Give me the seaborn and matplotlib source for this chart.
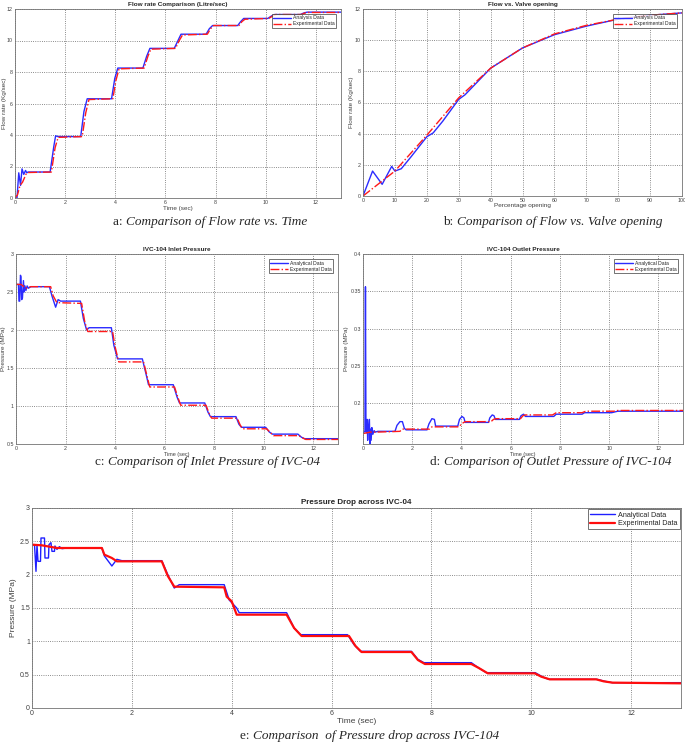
import numpy as np
import pandas as pd
import matplotlib
matplotlib.use("Agg")
import matplotlib.pyplot as plt
import seaborn as sns

# ---- data ----
# a: flow rate vs time
t_flow_ana = [0, 0.08, 0.15, 0.22, 0.28, 0.35, 0.42, 0.47, 0.52, 1.40, 1.55, 1.62, 1.70, 2.62, 2.75, 2.88,
              3.85, 3.98, 4.10, 5.10, 5.25, 5.38, 6.35, 6.50, 6.62, 7.62, 7.75, 7.88, 8.88, 9.00, 9.12,
              10.08, 10.22, 10.35, 11.38, 11.52, 11.65, 13.0]
flow_ana = [0, 0, 1.6, 0.8, 1.85, 1.5, 1.75, 1.6, 1.65, 1.65, 3.3, 3.95, 3.9, 3.9, 5.5, 6.3,
            6.3, 7.6, 8.25, 8.25, 9.0, 9.5, 9.5, 10.0, 10.4, 10.4, 10.75, 10.95, 10.95, 11.2, 11.4,
            11.4, 11.55, 11.65, 11.65, 11.75, 11.8, 11.8]
t_flow_exp = [0, 0.1, 0.2, 0.3, 0.45, 0.55, 1.45, 1.6, 1.72, 2.68, 2.82, 2.95, 3.9, 4.03, 4.15, 5.15,
              5.3, 5.42, 6.4, 6.55, 6.68, 7.67, 7.8, 7.92, 8.93, 9.05, 9.17, 10.12, 10.27, 10.4,
              11.42, 11.57, 11.7, 13.0]
flow_exp = [0, 0.2, 0.8, 1.0, 1.55, 1.62, 1.65, 3.2, 3.85, 3.9, 5.4, 6.25, 6.3, 7.5, 8.2, 8.25,
            9.0, 9.45, 9.5, 10.0, 10.35, 10.4, 10.75, 10.95, 10.95, 11.2, 11.35, 11.4, 11.55, 11.65,
            11.65, 11.75, 11.78, 11.78]

# b: flow vs valve opening
open_ana = [0, 3, 6, 9, 10, 12, 15, 20, 22, 25, 30, 32, 40, 50, 60, 70, 80, 90, 100]
flowv_ana = [0, 1.6, 0.75, 1.9, 1.6, 1.75, 2.5, 3.8, 4.05, 4.8, 6.2, 6.5, 8.2, 9.5, 10.35, 10.9, 11.35, 11.6, 11.75]
open_exp = [0, 10, 20, 30, 40, 50, 60, 70, 80, 90, 100]
flowv_exp = [0, 1.6, 3.9, 6.3, 8.2, 9.5, 10.4, 10.95, 11.35, 11.6, 11.75]

# c: inlet pressure
t_in_ana = [0, 0.1, 0.12, 0.15, 0.18, 0.2, 0.23, 0.26, 0.3, 0.33, 0.36, 0.4, 0.45, 0.5, 0.6, 1.35, 1.45,
            1.6, 1.7, 1.8, 2.6, 2.72, 2.85, 2.95, 3.85, 3.95, 4.1, 5.1, 5.25, 5.35, 6.35, 6.5, 6.6,
            7.62, 7.75, 7.85, 8.88, 9.0, 9.1, 10.08, 10.22, 10.35, 11.38, 11.52, 11.65, 13]
p_in_ana = [2.6, 2.6, 2.38, 2.38, 2.72, 2.7, 2.4, 2.42, 2.65, 2.5, 2.58, 2.52, 2.58, 2.55, 2.57, 2.57, 2.45,
            2.3, 2.4, 2.38, 2.38, 2.15, 2.0, 2.03, 2.03, 1.8, 1.62, 1.62, 1.42, 1.28, 1.28, 1.12, 1.04,
            1.04, 0.92, 0.86, 0.86, 0.76, 0.72, 0.72, 0.66, 0.63, 0.63, 0.59, 0.57, 0.57]
t_in_exp = [0, 0.2, 0.4, 0.6, 1.4, 1.5, 1.65, 2.65, 2.78, 2.9, 3.9, 4.0, 4.15, 5.15, 5.3, 5.4, 6.4, 6.55,
            6.65, 7.67, 7.8, 7.9, 8.93, 9.05, 9.15, 10.12, 10.27, 10.4, 11.42, 11.57, 11.7, 13]
p_in_exp = [2.6, 2.6, 2.55, 2.57, 2.57, 2.45, 2.36, 2.35, 2.1, 1.98, 1.98, 1.78, 1.58, 1.58, 1.38, 1.25,
            1.25, 1.1, 1.01, 1.01, 0.9, 0.84, 0.84, 0.75, 0.7, 0.7, 0.65, 0.61, 0.61, 0.58, 0.56, 0.56]

# d: outlet pressure
t_out_ana = [0, 0.08, 0.1, 0.12, 0.14, 0.17, 0.19, 0.21, 0.23, 0.26, 0.28, 0.3, 0.33, 0.36, 0.4, 0.45,
             0.5, 0.6, 1.3, 1.38, 1.5, 1.6, 1.68, 1.75, 2.6, 2.68, 2.8, 2.9, 2.95, 3.85, 3.92, 4.02,
             4.1, 4.15, 5.1, 5.15, 5.25, 5.32, 5.38, 6.35, 6.42, 6.52, 6.6, 7.75, 7.85, 8.9, 9.0,
             10.1, 10.35, 13]
p_out_ana = [0.16, 0.162, 0.356, 0.165, 0.16, 0.178, 0.15, 0.165, 0.168, 0.178, 0.145, 0.165, 0.15, 0.167,
             0.158, 0.163, 0.161, 0.162, 0.162, 0.17, 0.175, 0.175, 0.166, 0.164, 0.164, 0.172, 0.179,
             0.178, 0.169, 0.169, 0.178, 0.182, 0.18, 0.174, 0.174, 0.18, 0.184, 0.183, 0.178, 0.178,
             0.183, 0.185, 0.182, 0.182, 0.185, 0.185, 0.187, 0.187, 0.189, 0.189]
t_out_exp = [0, 0.3, 0.6, 1.5, 1.6, 2.7, 2.8, 3.9, 4.0, 4.15, 5.2, 5.3, 5.4, 6.4, 6.5, 6.6, 7.7, 7.85,
             8.9, 9.05, 10.2, 10.35, 13]
p_out_exp = [0.159, 0.161, 0.161, 0.162, 0.165, 0.165, 0.168, 0.168, 0.172, 0.175, 0.175, 0.178, 0.179,
             0.179, 0.183, 0.184, 0.184, 0.187, 0.187, 0.189, 0.189, 0.19, 0.19]

# e: pressure drop
t_dp_ana = [0, 0.05, 0.08, 0.1, 0.12, 0.17, 0.18, 0.25, 0.26, 0.33, 0.34, 0.38, 0.4, 0.45, 0.46, 0.5,
            0.55, 0.6, 0.7, 1.4, 1.45, 1.6, 1.7, 1.8, 2.6, 2.72, 2.85, 2.95, 3.85, 3.95, 4.1, 4.15,
            5.1, 5.25, 5.38, 6.32, 6.45, 6.58, 7.6, 7.73, 7.85, 8.8, 8.95, 9.1, 10.08, 10.22, 10.35,
            11.32, 11.48, 11.62, 13]
dp_ana = [2.45, 2.45, 2.05, 2.45, 2.2, 2.2, 2.55, 2.55, 2.25, 2.25, 2.45, 2.48, 2.35, 2.35, 2.43, 2.38,
          2.42, 2.39, 2.4, 2.4, 2.28, 2.13, 2.23, 2.21, 2.21, 2.0, 1.8, 1.85, 1.85, 1.62, 1.5, 1.43,
          1.43, 1.2, 1.1, 1.1, 0.95, 0.85, 0.85, 0.73, 0.68, 0.68, 0.6, 0.53, 0.53, 0.47, 0.43,
          0.43, 0.4, 0.38, 0.38]
t_dp_exp = [0, 0.2, 0.5, 1.4, 1.45, 1.6, 1.7, 2.6, 2.72, 2.85, 3.85, 3.9, 4.0, 4.1, 5.1, 5.25, 5.4,
            6.35, 6.48, 6.6, 7.6, 7.73, 7.87, 8.8, 8.95, 9.13, 10.07, 10.2, 10.37, 11.3, 11.45, 11.63, 13]
dp_exp = [2.45, 2.44, 2.4, 2.4, 2.3, 2.25, 2.2, 2.2, 1.98, 1.82, 1.81, 1.67, 1.6, 1.4, 1.4, 1.2, 1.08,
          1.08, 0.93, 0.84, 0.84, 0.72, 0.66, 0.66, 0.6, 0.52, 0.52, 0.47, 0.43, 0.43, 0.4, 0.38, 0.37]

W, H = 685, 745
sns.set_theme(style="white")
plt.rcParams['font.family'] = ['Liberation Sans', 'DejaVu Sans']

fig = plt.figure(figsize=(W / 100, H / 100), dpi=100)


def add_ax(left, top, right, bottom):
    return fig.add_axes([left / W, 1 - bottom / H, (right - left) / W, (bottom - top) / H])


def style_ax(ax, fs):
    ax.grid(True, linestyle=':', color='0.4', linewidth=0.6)
    for s in ax.spines.values():
        s.set_color('0.45')
        s.set_linewidth(0.6)
    ax.tick_params(labelsize=fs, pad=1.5, length=0, colors='0.25')


def draw_pair(ax, x1, y1, x2, y2, lab1, lab2, fs, small=True):
    if small:
        sns.lineplot(x=x1, y=y1, ax=ax, sort=False, estimator=None, color='#2b2bff', lw=1.0, label=lab1)
        sns.lineplot(x=x2, y=y2, ax=ax, sort=False, estimator=None, color='#ff1a1a', lw=1.0,
                     linestyle='-.', label=lab2)
    else:
        sns.lineplot(x=x1, y=y1, ax=ax, sort=False, estimator=None, color='#1f1fff', lw=1.0, label=lab1)
        sns.lineplot(x=x2, y=y2, ax=ax, sort=False, estimator=None, color='#ff0d0d', lw=1.6, label=lab2)
    leg = ax.legend(loc='upper right', fontsize=fs, frameon=True, fancybox=False, edgecolor='0.2',
                    borderpad=0.3, handlelength=3.5, handletextpad=0.4, labelspacing=0.2,
                    borderaxespad=1.0 if small else 0.2)
    leg.get_frame().set_linewidth(0.6)


# a
ax = add_ax(15, 9, 341, 198)
draw_pair(ax, t_flow_ana, flow_ana, t_flow_exp, flow_exp, 'Analysis Data', 'Experimental Data', 3.6)
ax.set_xlim(0, 13); ax.set_ylim(0, 12)
ax.set_xticks(range(0, 13, 2)); ax.set_yticks(range(0, 13, 2))
style_ax(ax, 3.8)
ax.set_title('Flow rate Comparison (Litre/sec)', fontsize=4.6, fontweight='bold', pad=2)
ax.set_xlabel('Time (sec)', fontsize=4.6, labelpad=1, color='0.25')
ax.set_ylabel('Flow rate (Kg/sec)', fontsize=4.6, labelpad=0, color='0.25')

# b
ax = add_ax(363, 9, 682, 196)
draw_pair(ax, open_ana, flowv_ana, open_exp, flowv_exp, 'Analysis Data', 'Experimental Data', 3.6)
ax.set_xlim(0, 100); ax.set_ylim(0, 12)
ax.set_xticks(range(0, 101, 10)); ax.set_yticks(range(0, 13, 2))
style_ax(ax, 3.8)
ax.set_title('Flow vs. Valve opening', fontsize=4.6, fontweight='bold', pad=2)
ax.set_xlabel('Percentage opening', fontsize=4.6, labelpad=0, color='0.25')
ax.set_ylabel('Flow rate (Kg/sec)', fontsize=4.6, labelpad=1, color='0.25')

# c
ax = add_ax(16, 254, 338, 444)
draw_pair(ax, t_in_ana, p_in_ana, t_in_exp, p_in_exp, 'Analytical Data', 'Experimental Data', 3.6)
ax.set_xlim(0, 13); ax.set_ylim(0.5, 3)
ax.set_xticks(range(0, 13, 2)); ax.set_yticks([0.5, 1, 1.5, 2, 2.5, 3])
ax.set_yticklabels(['0.5', '1', '1.5', '2', '2.5', '3'])
style_ax(ax, 3.8)
ax.set_title('IVC-104 Inlet Pressure', fontsize=4.6, fontweight='bold', pad=2)
ax.set_xlabel('Time (sec)', fontsize=4.0, labelpad=1, color='0.25')
ax.set_ylabel('Pressure (MPa)', fontsize=4.6, labelpad=0, color='0.25')

# d
ax = add_ax(363, 254, 683, 444)
draw_pair(ax, t_out_ana, p_out_ana, t_out_exp, p_out_exp, 'Analytical Data', 'Experimental Data', 3.6)
ax.set_xlim(0, 13); ax.set_ylim(0.145, 0.4)
ax.set_xticks(range(0, 13, 2)); ax.set_yticks([0.2, 0.25, 0.3, 0.35, 0.4])
ax.set_yticklabels(['0.2', '0.25', '0.3', '0.35', '0.4'])
style_ax(ax, 3.8)
ax.set_title('IVC-104 Outlet Pressure', fontsize=4.6, fontweight='bold', pad=2)
ax.set_xlabel('Time (sec)', fontsize=4.0, labelpad=1, color='0.25')
ax.set_ylabel('Pressure (MPa)', fontsize=4.6, labelpad=1, color='0.25')

# e
ax = add_ax(32, 508, 681, 708)
draw_pair(ax, t_dp_ana, dp_ana, t_dp_exp, dp_exp, 'Analytical Data', 'Experimental Data', 5.2, small=False)
ax.set_xlim(0, 13); ax.set_ylim(0, 3)
ax.set_xticks(range(0, 13, 2)); ax.set_yticks([0, 0.5, 1, 1.5, 2, 2.5, 3])
ax.set_yticklabels(['0', '0.5', '1', '1.5', '2', '2.5', '3'])
style_ax(ax, 5.0)
ax.set_title('Pressure Drop across IVC-04', fontsize=5.8, fontweight='bold', pad=3)
ax.set_xlabel('Time (sec)', fontsize=6.0, labelpad=1, color='0.25')
ax.set_ylabel('Pressure (MPa)', fontsize=6.0, labelpad=2, color='0.25')

# captions: regular letter, italic description
fig.canvas.draw()
renderer = fig.canvas.get_renderer()


def caption(x_px, y_px, letter, text):
    t1 = fig.text(x_px / W, 1 - y_px / H, letter + ' ', fontsize=9.5, family='Liberation Serif',
                  ha='left', va='center')
    bb = t1.get_window_extent(renderer)
    fig.text(bb.x1 / W, 1 - y_px / H, text, fontsize=9.5, family='Liberation Serif', style='italic',
             ha='left', va='center')


caption(113, 222, 'a:', 'Comparison of Flow rate vs. Time')
caption(443, 222, 'b:', 'Comparison of Flow vs. Valve opening')
caption(95, 462, 'c:', 'Comparison of Inlet Pressure of IVC-04')
caption(430, 462, 'd:', 'Comparison of Outlet Pressure of IVC-104')
caption(240, 736, 'e:', 'Comparison  of Pressure drop across IVC-104')

fig.savefig('out.png', dpi=100)
